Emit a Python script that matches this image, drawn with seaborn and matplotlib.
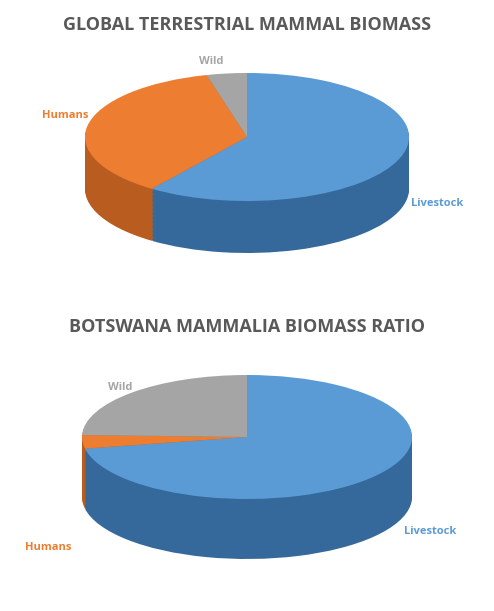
import matplotlib
matplotlib.use("Agg")
import matplotlib.pyplot as plt
import seaborn as sns

categories = ["Livestock", "Humans", "Wild"]
global_share = [60, 36, 4]
botswana_share = [72, 3.5, 24.5]

top_colors = ["#5b9bd5", "#ed7d31", "#a5a5a5"]
side_colors = ["#35699b", "#b85d1f", "#7c7c7c"]

sns.set_theme(style="white")
plt.rcParams["font.family"] = ["Open Sans", "DejaVu Sans"]

W, H = 494, 611
fig = plt.figure(figsize=(W / 100, H / 100), dpi=100)


def px_axes(top, bottom):
    return fig.add_axes([0, 1 - bottom / H, 1, (bottom - top) / H])


def pie3d(ax, values, cx, cy, rx, ry, depth, top, bottom):
    n = 40
    d = depth / ry
    for k in range(n, 0, -1):
        ax.pie(values, colors=side_colors, startangle=90, counterclock=False,
               center=(0, -d * k / n), radius=1,
               wedgeprops=dict(linewidth=0))
    ax.pie(values, colors=top_colors, startangle=90, counterclock=False,
           center=(0, 0), radius=1, wedgeprops=dict(linewidth=0))
    ax.set_aspect("auto")
    ax.set_xlim(-cx / rx, (W - cx) / rx)
    ax.set_ylim(-(bottom - cy) / ry, (cy - top) / ry)
    ax.axis("off")


ax1 = px_axes(50, 290)
pie3d(ax1, global_share, 247, 137, 162, 64, 52, 50, 290)
ax2 = px_axes(365, 600)
pie3d(ax2, botswana_share, 247, 437, 165, 62, 60, 365, 600)


def label(x, y, s, c, **kw):
    fig.text(x / W, 1 - y / H, s, color=c, ha="center", va="center", **kw)


label(247, 25, "GLOBAL TERRESTRIAL MAMMAL BIOMASS", "#595959", fontsize=13, fontweight="bold")
label(247, 327, "BOTSWANA MAMMALIA BIOMASS RATIO", "#595959", fontsize=13, fontweight="bold")
for (x, y), name, c in zip([(437, 203), (65, 115), (211, 62)], categories, top_colors):
    label(x, y, name, c, fontsize=8, fontweight="bold")
for (x, y), name, c in zip([(430, 532), (48, 547), (120, 388)], categories, top_colors):
    label(x, y, name, c, fontsize=8, fontweight="bold")

fig.savefig("out.png", dpi=100)
